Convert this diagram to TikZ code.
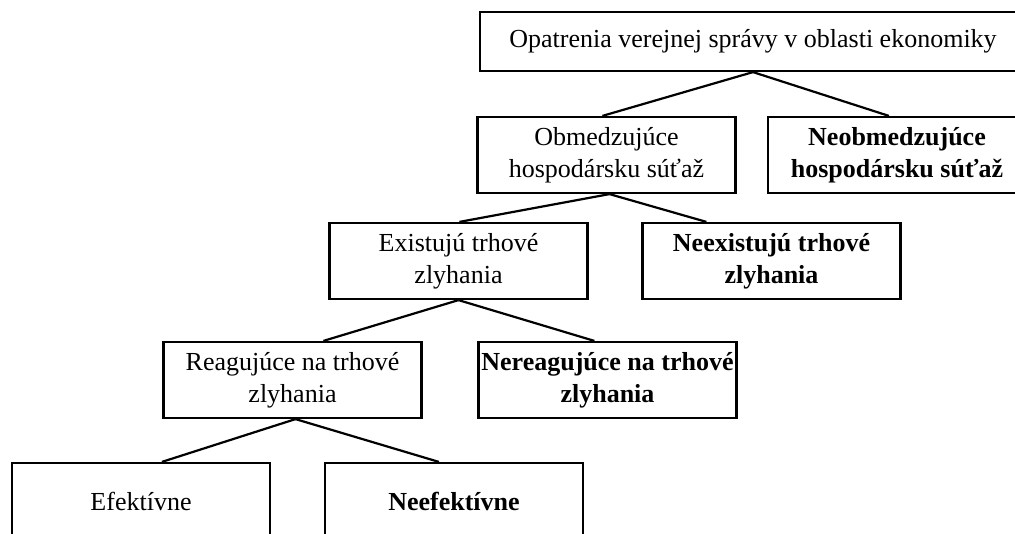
\documentclass[tikz,border=0pt]{standalone}
\usepackage{fontspec}
\setmainfont{Liberation Serif}
\begin{document}
\begin{tikzpicture}[x=1pt,y=-1pt,
  box/.style={draw, line width=2.2pt, minimum width=258pt, minimum height=76pt,
    inner sep=0pt, align=center, font=\fontsize{26}{32}\selectfont},
  boldbox/.style={box, font=\fontsize{26}{32}\selectfont\bfseries},
  link/.style={line width=2.2pt}]
\useasboundingbox (0,0) rectangle (1015,533);
\clip (0,0) rectangle (1015,533);
\node[box, minimum width=546pt, minimum height=59pt] (A) at (753,41.5) {Opatrenia verejnej správy v oblasti ekonomiky};
\node[box] (B) at (606.5,155) {Obmedzujúce\\hospodársku súťaž};
\node[boldbox] (C) at (897,155) {Neobmedzujúce\\hospodársku súťaž};
\node[box] (D) at (458.5,261) {Existujú trhové\\zlyhania};
\node[boldbox] (E) at (771.5,261) {Neexistujú trhové\\zlyhania};
\node[box] (F) at (292.5,380) {Reagujúce na trhové\\zlyhania};
\node[boldbox] (G) at (607.5,380) {Nereagujúce na trhové\\zlyhania};
\node[box] (H) at (141,501) {Efektívne};
\node[boldbox] (I) at (454,501) {Neefektívne};
\draw[link] (A.south) -- ([xshift=126pt]B.north west);
\draw[link] (A.south) -- ([xshift=122pt]C.north west);
\draw[link] ([xshift=3pt]B.south) -- ([xshift=131pt]D.north west);
\draw[link] ([xshift=3pt]B.south) -- ([xshift=65pt]E.north west);
\draw[link] (D.south) -- ([xshift=161pt]F.north west);
\draw[link] (D.south) -- ([xshift=117pt]G.north west);
\draw[link] ([xshift=3pt]F.south) -- ([xshift=151pt]H.north west);
\draw[link] ([xshift=3pt]F.south) -- ([xshift=115pt]I.north west);
\end{tikzpicture}
\end{document}
